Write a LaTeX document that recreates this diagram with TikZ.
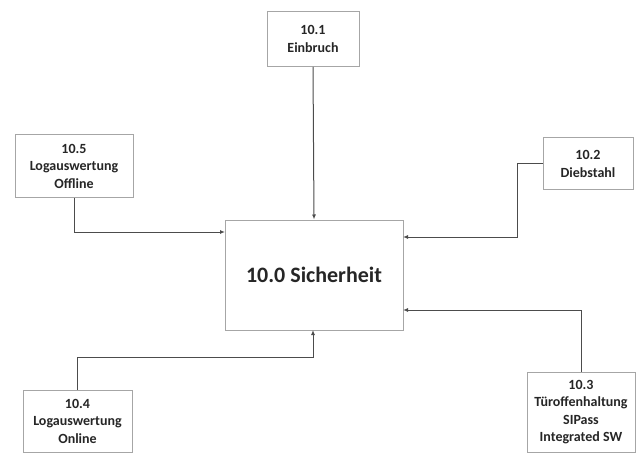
\documentclass[tikz,border=0pt]{standalone}
\usepackage{fontspec}
\setmainfont{Carlito}
\usepackage{tikz}
\usetikzlibrary{positioning,arrows.meta}
\usepackage{xcolor}

\begin{document}
\begin{tikzpicture}[
    x=1pt, y=-1pt,
    box/.style={draw=black!35, line width=1pt, fill=white,
                align=center, inner sep=2pt, text=black!85,
                font=\fontsize{14}{17.5}\selectfont\bfseries},
    mainbox/.style={box, font=\fontsize{22}{26}\selectfont\bfseries},
    link/.style={draw=black!70, line width=1pt,
                 -{Latex[length=5pt,width=4pt]}}
]
\useasboundingbox (0,0) rectangle (636,454);

% ============================
% Main process
% ============================
\node[mainbox, minimum width=178pt, minimum height=110pt] (main) at (314,275) {10.0 Sicherheit};

% ============================
% Sub processes
% ============================
\node[box, minimum width=92pt,  minimum height=55pt] (e1) at (313,39)    {10.1\\Einbruch};
\node[box, minimum width=90pt,  minimum height=52pt] (e2) at (588,164)   {10.2\\Diebstahl};
\node[box, minimum width=108pt, minimum height=80pt] (e3) at (581,412)   {10.3\\Türoffenhaltung\\SIPass\\Integrated SW};
\node[box, minimum width=109pt, minimum height=62pt] (e4) at (77.5,421)  {10.4\\Logauswertung\\Online};
\node[box, minimum width=118pt, minimum height=63pt] (e5) at (74,166)    {10.5\\Logauswertung\\Offline};

% Corner and entry points
\coordinate (in2) at (403,237);
\coordinate (k2)  at (517,237);
\coordinate (in3) at (403,310);
\coordinate (k4)  at (313,357);
\coordinate (in4) at (313,330);
\coordinate (in5) at (225,232);

% ============================
% Connectors
% ============================
\draw[link] (e1.south) -- (main.north);
\draw[link] (e2.west) -| (k2) -- (in2);
\draw[link] (e3.north) |- (in3);
\draw[link] (e4.north) |- (k4) -- (in4);
\draw[link] (e5.south) |- (in5);

\end{tikzpicture}
\end{document}
